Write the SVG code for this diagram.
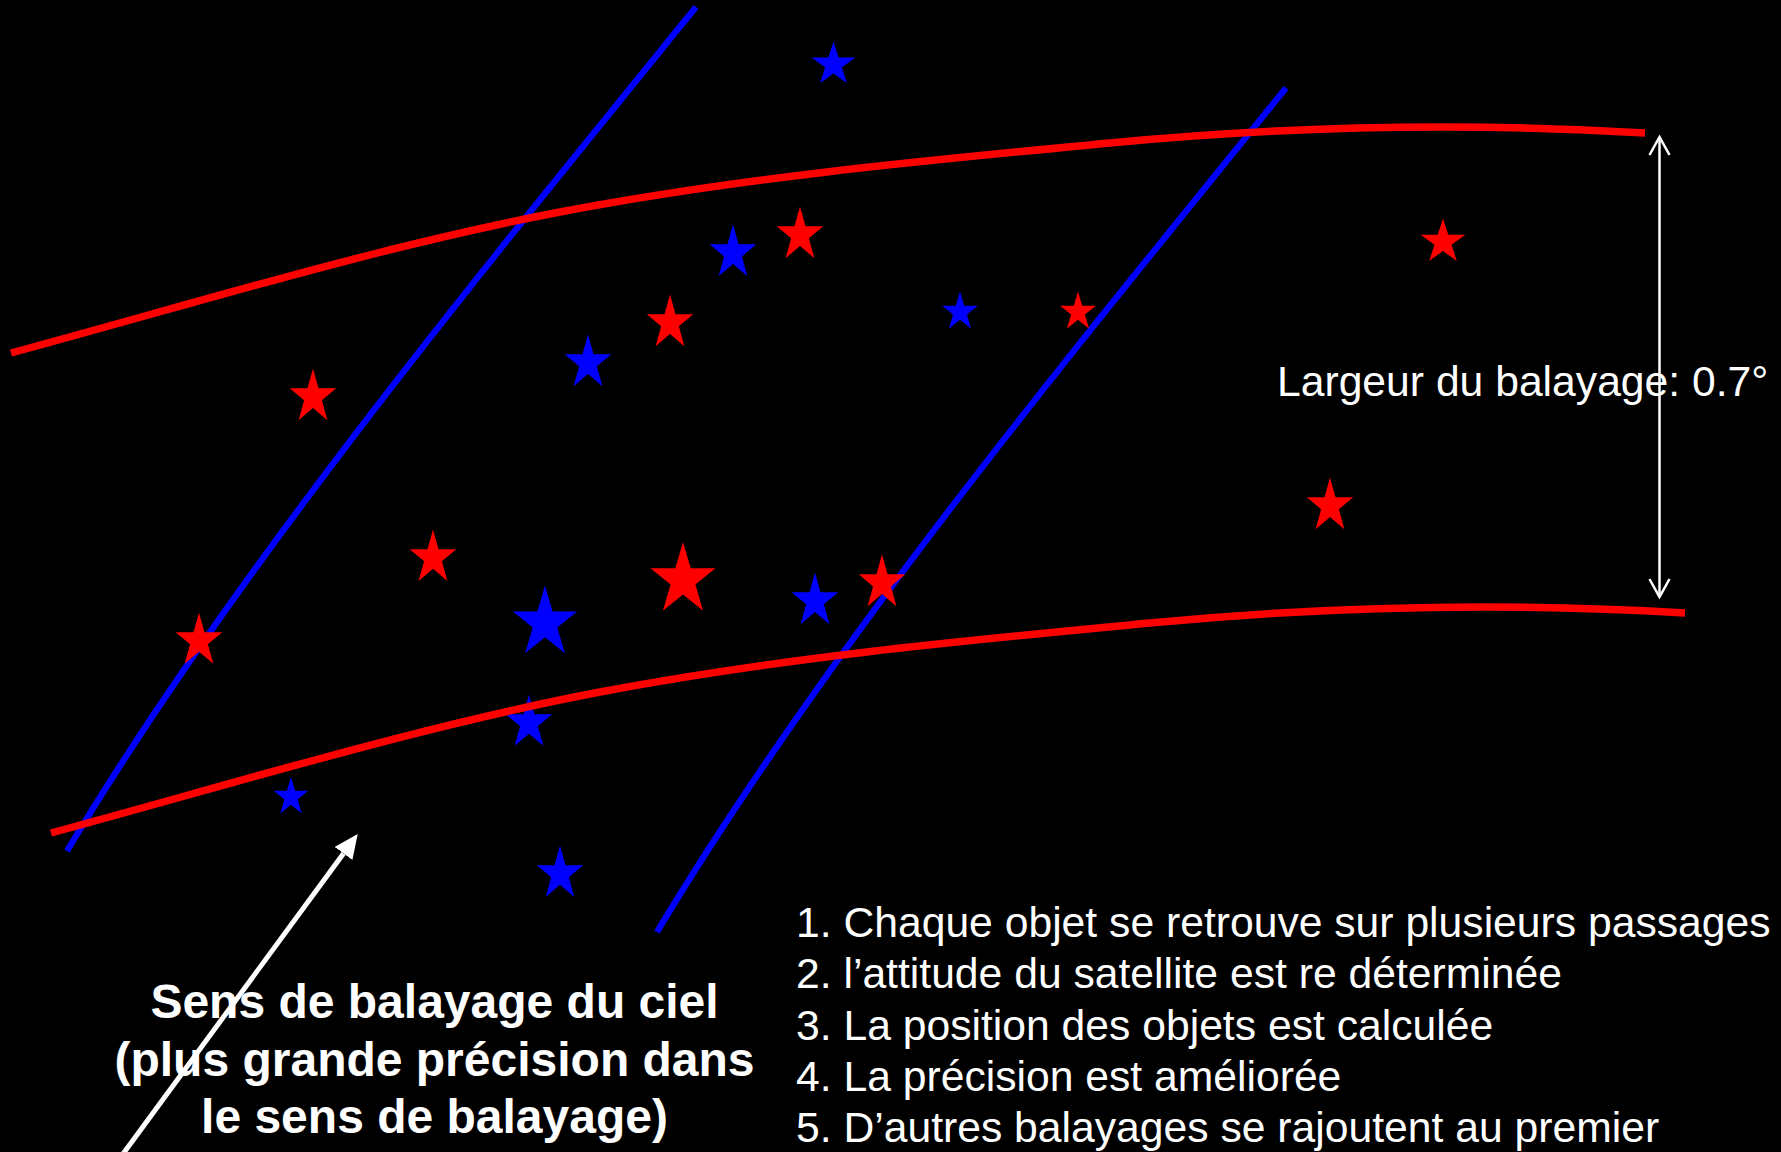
<svg xmlns="http://www.w3.org/2000/svg" xmlns:xlink="http://www.w3.org/1999/xlink" width="1781" height="1152" viewBox="0 0 1781 1152">
<style>
.bg{fill:#000}
.r{fill:#FF0000}
.b{fill:#0000FF}
.scanB{fill:none;stroke:#0000FF;stroke-width:6.3}
.scanR{fill:none;stroke:#FF0000;stroke-width:7.5}
.t{font-family:"Liberation Sans",Arial,sans-serif;fill:#fff;font-size:42.67px}
.tb{font-family:"Liberation Sans",Arial,sans-serif;fill:#fff;font-size:48px;font-weight:bold;text-anchor:middle}
.dim{fill:none;stroke:#fff;stroke-width:2.5}
.dir{fill:none;stroke:#fff;stroke-width:5}
</style>
<defs>
<polygon id="star" points="0,-1 0.2245,-0.309 0.9511,-0.309 0.3633,0.118 0.5878,0.809 0,0.382 -0.5878,0.809 -0.3633,0.118 -0.9511,-0.309 -0.2245,-0.309"/>
<path id="scanline" d="M696,7 C469,287 235,571 67,851"/>
<path id="swath" d="M11,353 C194,303.6 377,246.8 560,212 S927,160.4 1110,143 S1467,122.3 1645,133"/>
<marker id="chev" viewBox="-21 -12 23 24" refX="0" refY="0" markerWidth="23" markerHeight="24" markerUnits="userSpaceOnUse" orient="auto-start-reverse">
<path d="M-18,-10 L0,0 L-18,10" fill="none" stroke="#fff" stroke-width="2.5"/>
</marker>
<marker id="head" viewBox="0 0 24 22" refX="0" refY="11" markerWidth="24" markerHeight="22" markerUnits="userSpaceOnUse" orient="auto">
<path d="M0,0 L24,11 L0,22 z" fill="#fff"/>
</marker>
</defs>
<rect class="bg" x="0" y="0" width="1781" height="1152"/>

<g id="connectors">
<g id="scan-lines-blue">
<use xlink:href="#scanline" class="scanB"/>
<use xlink:href="#scanline" class="scanB" transform="translate(590,81)"/>
</g>
</g>

<g id="stars">
<g id="red-stars" class="r">
<use id="r1" xlink:href="#star" transform="translate(313,397) scale(24.5,28.6)"/>
<use id="r2" xlink:href="#star" transform="translate(670,323) scale(24.4,28.6)"/>
<use id="r3" xlink:href="#star" transform="translate(800,235) scale(24.4,28.6)"/>
<use id="r4" xlink:href="#star" transform="translate(1078,312) scale(18.9,20.6)"/>
<use id="r5" xlink:href="#star" transform="translate(1443,242) scale(23.5,23.4)"/>
<use id="r6" xlink:href="#star" transform="translate(1330,506) scale(24.4,28.6)"/>
<use id="r7" xlink:href="#star" transform="translate(433,558) scale(24.5,28.4)"/>
<use id="r8" xlink:href="#star" transform="translate(683,580) scale(34.2,38.1)"/>
<use id="r9" xlink:href="#star" transform="translate(882,583) scale(24.5,28.7)"/>
<use id="r10" xlink:href="#star" transform="translate(199,641) scale(24.5,28.2)"/>
</g>
<g id="blue-stars" class="b">
<use id="b1" xlink:href="#star" transform="translate(833.5,64.7) scale(22.9,23)"/>
<use id="b2" xlink:href="#star" transform="translate(733,253) scale(24.5,28.7)"/>
<use id="b3" xlink:href="#star" transform="translate(588,363) scale(24.5,28.6)"/>
<use id="b4" xlink:href="#star" transform="translate(960,312) scale(18.9,20.6)"/>
<use id="b5" xlink:href="#star" transform="translate(545,623) scale(33.8,37.4)"/>
<use id="b6" xlink:href="#star" transform="translate(815,601) scale(24.5,28.6)"/>
<use id="b7" xlink:href="#star" transform="translate(529,723) scale(24.4,28.2)"/>
<use id="b8" xlink:href="#star" transform="translate(291,797) scale(18.2,20.3)"/>
<use id="b9" xlink:href="#star" transform="translate(560,874) scale(24.2,28.4)"/>
</g>
</g>

<g id="swath-edges">
<use xlink:href="#swath" class="scanR"/>
<use xlink:href="#swath" class="scanR" transform="translate(40,480)"/>
</g>

<g id="width-arrow">
<line class="dim" x1="1659.5" y1="137" x2="1659.5" y2="597" marker-start="url(#chev)" marker-end="url(#chev)"/>
</g>
<g id="scan-direction-arrow">
<line class="dir" x1="120" y1="1158" x2="343.5" y2="853.4" marker-end="url(#head)"/>
</g>

<g id="label-width">
<text class="t" x="1277" y="396">Largeur du balayage: 0.7°</text>
</g>

<g id="label-direction">
<text class="tb" x="434.5" y="1018">Sens de balayage du ciel</text>
<text class="tb" x="434.5" y="1075.5">(plus grande précision dans</text>
<text class="tb" x="434.5" y="1133">le sens de balayage)</text>
</g>

<g id="label-steps">
<text class="t" x="796" y="937">1. Chaque objet se retrouve sur plusieurs passages</text>
<text class="t" x="796" y="988.3">2. l’attitude du satellite est re déterminée</text>
<text class="t" x="796" y="1039.6">3. La position des objets est calculée</text>
<text class="t" x="796" y="1090.9">4. La précision est améliorée</text>
<text class="t" x="796" y="1142.2">5. D’autres balayages se rajoutent au premier</text>
</g>
</svg>
